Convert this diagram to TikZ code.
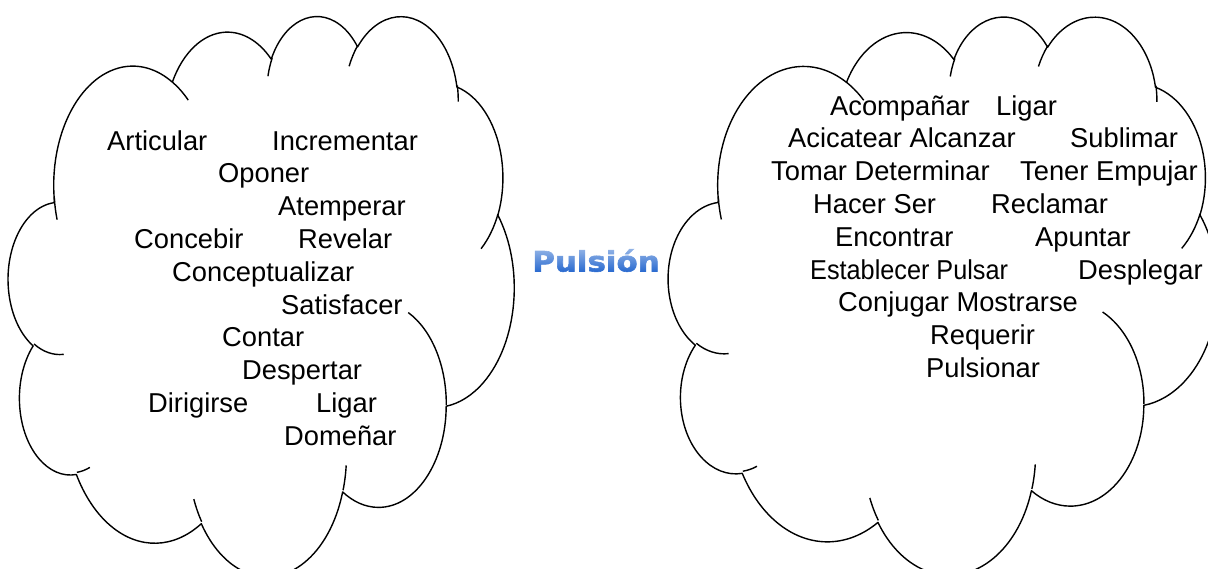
\documentclass[tikz,border=0pt]{standalone}
\usepackage{fontspec}
\setmainfont{Liberation Sans}
\newfontfamily\pulfont{DejaVu Sans}[FakeBold=2]
\usepackage{graphicx}
\definecolor{pulsblue}{RGB}{30,98,204}
\definecolor{pulslight}{rgb}{0.55,0.55,0.55}
\tikzset{
  cloudline/.style={draw=black, line width=1.4pt, line join=round},
  word/.style={anchor=base west, inner sep=0pt, font=\fontsize{27.3}{33}\selectfont},
}
\newcommand\mycloud[4]{%
\begin{scope}[shift={(#1,#2)}, xscale=#3, yscale=#4]
  \draw[cloudline] (39,143.7)
    arc[start angle=-187.745, end angle=-59.93, x radius=67.53, y radius=91.90]
    arc[start angle=-152.02, end angle=-45.44, x radius=53.33, y radius=72.67]
    arc[start angle=-153.48, end angle=-37.33, x radius=43.65, y radius=59.45]
    arc[start angle=-139.71, end angle=-10.21, x radius=48.57, y radius=65.95]
    arc[start angle=-74.77, end angle=23.21, x radius=53.33, y radius=72.73]
    arc[start angle=-37.52, end angle=81.86, x radius=67.75, y radius=92.20]
    arc[start angle=0.46, end angle=121.98, x radius=57.85, y radius=78.67]
    arc[start angle=16.845, end angle=146.23, x radius=67.52, y radius=92.15]
    arc[start angle=58.98, end angle=150.20, x radius=77.20, y radius=105.43]
    arc[start angle=83.31, end angle=223.11, x radius=43.60, y radius=59.18]
    arc[start angle=120.36, end angle=264.11, x radius=43.45, y radius=59.45]
    -- cycle;
  \draw[cloudline]
    (46.93,261.77) arc[start angle=85.55, end angle=120.36, x radius=43.45, y radius=59.45]
    (69.28,348.99) arc[start angle=68.23, end angle=83.31, x radius=43.60, y radius=59.18]
    (164.78,390.90) arc[start angle=146.23, end angle=158.48, x radius=67.52, y radius=92.15]
    (288.27,347.51) arc[start angle=4.74, end angle=16.85, x radius=67.52, y radius=92.15]
    (341.29,229.54) arc[start angle=-64.03, end angle=0.46, x radius=57.85, y radius=78.67]
    (417.98,153.54) arc[start angle=23.21, end angle=49.64, x radius=53.33, y radius=72.73]
    (383.24,54.26) arc[start angle=-10.21, end angle=0.82, x radius=48.57, y radius=65.95]
    (290.78,39.52) arc[start angle=-156.29, end angle=-139.71, x radius=48.57, y radius=65.95]
    (221.41,47.20) arc[start angle=-167.73, end angle=-153.48, x radius=43.65, y radius=59.45]
    (140.00,51.92) arc[start angle=-59.93, end angle=-45.72, x radius=67.53, y radius=91.90]
    (41.27,157.89) arc[start angle=163.64, end angle=174.45, x radius=67.53, y radius=91.90];
\end{scope}}
\begin{document}
\begin{tikzpicture}[x=1pt, y=1pt, yscale=-1]
\useasboundingbox (0,0) rectangle (1208,568);
\fill[white] (0,0) rectangle (1208,568);
\mycloud{8.8}{15}{1.17037}{1.29630}
\mycloud{668.9}{15.5}{1.27083}{1.29167}
% left cloud words
\node[word] (l1) at (107,150) {Articular};
\node[word] (l2) at (272,150) {Incrementar};
\node[word] (l3) at (218,182.8) {Oponer};
\node[word] (l4) at (278,215.6) {Atemperar};
\node[word] (l5) at (134,248.4) {Concebir};
\node[word] (l6) at (298,248.4) {Revelar};
\node[word] (l7) at (172,281.2) {Conceptualizar};
\node[word] (l8) at (281,314) {Satisfacer};
\node[word] (l9) at (222,346.8) {Contar};
\node[word] (l10) at (242,379.6) {Despertar};
\node[word] (l11) at (148,412.4) {Dirigirse};
\node[word] (l12) at (316,412.4) {Ligar};
\node[word] (l13) at (284,445.2) {Domeñar};
% right cloud words
\node[word] (r1) at (830,115) {Acompañar};
\node[word] (r2) at (996,115) {Ligar};
\node[word] (r3) at (788,147.8) {Acicatear Alcanzar};
\node[word] (r4) at (1070,147.8) {Sublimar};
\node[word] (r5) at (771,180.6) {Tomar Determinar};
\node[word] (r6) at (1020,180.6) {Tener Empujar};
\node[word] (r7) at (813,213.4) {Hacer Ser};
\node[word] (r8) at (991,213.4) {Reclamar};
\node[word] (r9) at (835,246.2) {Encontrar};
\node[word] (r10) at (1035,246.2) {Apuntar};
\node[word] (r11) at (810,279) {\scalebox{0.925}[1]{Establecer Pulsar}};
\node[word] (r12) at (1078,279) {Desplegar};
\node[word] (r13) at (838,311.8) {Conjugar Mostrarse};
\node[word] (r14) at (930,344.6) {Requerir};
\node[word] (r15) at (926,377.4) {Pulsionar};
% centre title with a vertical light-to-dark gradient (screen blend)
\node[anchor=base, inner sep=0pt, text=pulsblue, font=\pulfont\bfseries\fontsize{28.1}{34}\selectfont] (pul) at (596,271.5) {\scalebox{1.1}[1]{Pulsión}};
\begin{scope}[yscale=-1, blend mode=screen]
  \shade[top color=pulslight, bottom color=black] (528,-247) rectangle (664,-274);
\end{scope}
\end{tikzpicture}
\end{document}
